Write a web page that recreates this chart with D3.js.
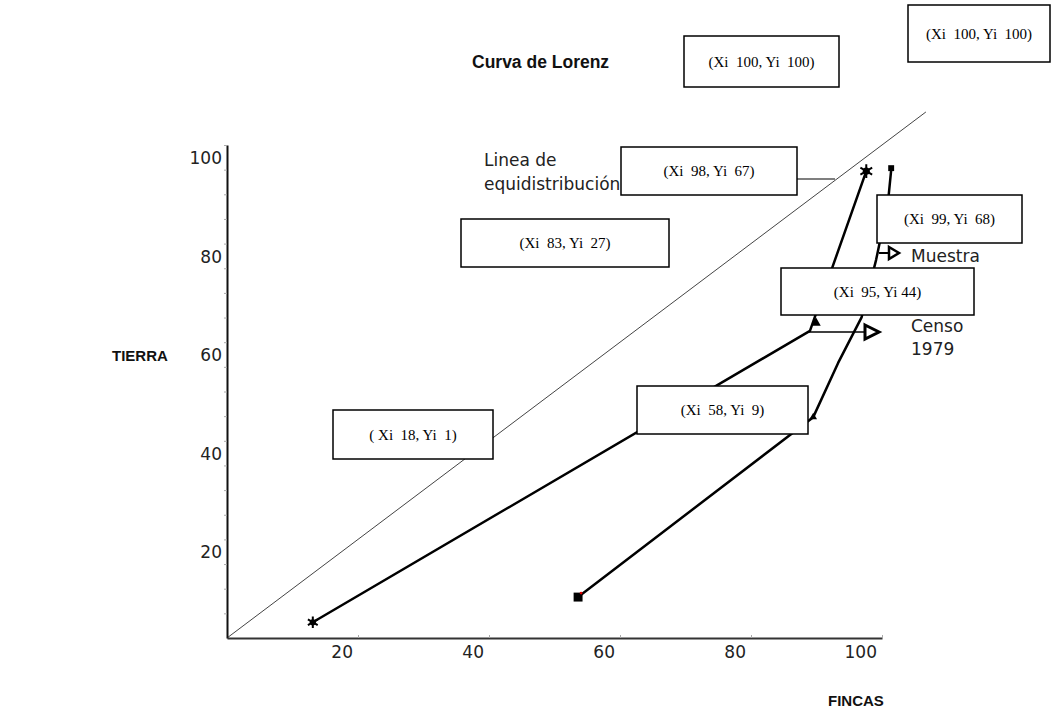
<!DOCTYPE html>
<html>
<head>
<meta charset="utf-8">
<title>Curva de Lorenz</title>
<script src="https://d3js.org/d3.v7.min.js"></script>
<style>
  body { margin: 0; background: #fff; }
  .lab { font-family: "DejaVu Sans", sans-serif; font-size: 17px; fill: #222; }
  .bold { font-family: "Liberation Sans", Arial, sans-serif; font-weight: bold; fill: #111; }
  .box text { font-family: "Liberation Serif", "Times New Roman", serif; font-size: 15px; fill: #000; white-space: pre; }
</style>
</head>
<body>
<svg width="1057" height="708"></svg>
<script>
// ticks
var xTickLabels = [20, 40, 60, 80, 100];
var yTickLabels = [20, 40, 60, 80, 100];

// Censo 1979
var censoX = [13.1, 89.0, 97.6];
var censoY = [3.2, 62.3, 94.7];

// Muestra
var muestraX = [53.6, 89.5, 93.3, 96.9, 99.1, 100.9, 101.4];
var muestraY = [8.3, 44.8, 55.8, 65.1, 76.7, 88.2, 94.9];

// equidistribution line
var equiX = [0, 106.7];
var equiY = [0, 106.7];

// callout boxes (text, left, top, width, height)
var boxText = ["(Xi  100, Yi  100)", "(Xi  100, Yi  100)", "(Xi  98, Yi  67)", "(Xi  83, Yi  27)",
               "(Xi  99, Yi  68)", "(Xi  95, Yi 44)", "(Xi  58, Yi  9)", "( Xi  18, Yi  1)"];
var boxPos = [[684, 36, 155, 51], [908, 5, 142, 57], [621, 147, 176, 48], [461, 219, 208, 48],
              [877, 195, 145, 48], [781, 268, 193, 47], [637, 386, 171, 48], [333, 410, 160, 49]];

var svg = d3.select("svg");

var x = d3.scaleLinear().domain([0, 100]).range([227, 882]);
var y = d3.scaleLinear().domain([0, 100]).range([638, 145]);

// equidistribution
svg.append("line")
  .attr("x1", x(equiX[0])).attr("y1", y(equiY[0]))
  .attr("x2", x(equiX[1])).attr("y2", y(equiY[1]))
  .attr("stroke", "#444").attr("stroke-width", 1);

// axes
var yAxis = d3.axisLeft(y).tickValues(d3.range(5, 101, 5)).tickSize(3).tickSizeOuter(0).tickFormat("");
var xAxis = d3.axisBottom(x).tickValues(xTickLabels).tickSize(-3).tickSizeOuter(0).tickFormat("");

var gy = svg.append("g").attr("transform", "translate(" + x(0) + ",0)").call(yAxis);
var gx = svg.append("g").attr("transform", "translate(0," + y(0) + ")").call(xAxis);
gy.select(".domain").attr("stroke", "#111").attr("stroke-width", 2);
gx.select(".domain").attr("stroke", "#333").attr("stroke-width", 2);
svg.selectAll(".tick line").attr("stroke", "#aaa");

svg.selectAll(".ylab")
  .data(yTickLabels)
  .enter().append("text")
  .attr("class", "lab ylab")
  .attr("x", x(0) - 5)
  .attr("y", function(d) { return y(d) + 19; })
  .attr("text-anchor", "end")
  .text(function(d) { return d; });

svg.selectAll(".xlab")
  .data(xTickLabels)
  .enter().append("text")
  .attr("class", "lab xlab")
  .attr("x", function(d) { return x(d) - 5; })
  .attr("y", y(0) + 20)
  .attr("text-anchor", "end")
  .text(function(d) { return d; });

// series lines
var censo = censoX.map(function(v, i) { return [v, censoY[i]]; });
var muestra = muestraX.map(function(v, i) { return [v, muestraY[i]]; });

var line = d3.line().x(function(d) { return x(d[0]); }).y(function(d) { return y(d[1]); });

svg.append("path")
  .datum(censo)
  .attr("fill", "none").attr("stroke", "#000").attr("stroke-width", 2.5)
  .attr("stroke-linejoin", "round")
  .attr("d", line);

svg.append("path")
  .datum(muestra)
  .attr("fill", "none").attr("stroke", "#000").attr("stroke-width", 2.5)
  .attr("stroke-linejoin", "round")
  .attr("d", line);

// markers
function sym(type, size, d, fill, stroke, sw, dx, dy) {
  svg.append("path")
    .attr("d", d3.symbol().type(type).size(size)())
    .attr("transform", "translate(" + (x(d[0]) + (dx || 0)) + "," + (y(d[1]) + (dy || 0)) + ")")
    .attr("fill", fill).attr("stroke", stroke).attr("stroke-width", sw);
}
sym(d3.symbolCircle, 30, censo[0], "#000", "none", 0);
sym(d3.symbolAsterisk, 90, censo[0], "none", "#000", 2);
sym(d3.symbolTriangle, 40, censo[1], "#000", "none", 0, 6, -8);
sym(d3.symbolCircle, 40, censo[2], "#000", "none", 0);
sym(d3.symbolAsterisk, 130, censo[2], "none", "#000", 2);

sym(d3.symbolSquare, 80, muestra[0], "#000", "none", 0);
sym(d3.symbolCircle, 6, muestra[0], "#d00", "none", 0, 3, -4);
sym(d3.symbolTriangle, 25, muestra[1], "#000", "none", 0);
sym(d3.symbolSquare, 35, muestra[muestra.length - 1], "#000", "none", 0, 0, -2);

// legend arrows
svg.append("line").attr("x1", 879).attr("y1", 253).attr("x2", 889).attr("y2", 253)
  .attr("stroke", "#000").attr("stroke-width", 2);
svg.append("path").attr("d", "M889,247L899,253L889,259Z")
  .attr("fill", "none").attr("stroke", "#000").attr("stroke-width", 2.5);
svg.append("line").attr("x1", 808).attr("y1", 332).attr("x2", 865).attr("y2", 332)
  .attr("stroke", "#000").attr("stroke-width", 1.5);
svg.append("path").attr("d", "M865,325L879,332L865,339Z")
  .attr("fill", "none").attr("stroke", "#000").attr("stroke-width", 3);

svg.append("text").attr("class", "lab").attr("x", 911).attr("y", 262).text("Muestra");
svg.append("text").attr("class", "lab").attr("x", 911).attr("y", 332).text("Censo");
svg.append("text").attr("class", "lab").attr("x", 911).attr("y", 355).text("1979");

svg.append("text").attr("class", "lab").attr("x", 484).attr("y", 166).text("Linea de");
svg.append("text").attr("class", "lab").attr("x", 484).attr("y", 190).text("equidistribución");

// connector from box to equidistribution line
svg.append("line").attr("x1", 797).attr("y1", 179).attr("x2", 835).attr("y2", 179)
  .attr("stroke", "#000").attr("stroke-width", 1.2);

// callout boxes
var boxes = svg.selectAll(".box")
  .data(boxText)
  .enter().append("g").attr("class", "box");
boxes.append("rect")
  .attr("x", function(d, i) { return boxPos[i][0]; })
  .attr("y", function(d, i) { return boxPos[i][1]; })
  .attr("width", function(d, i) { return boxPos[i][2]; })
  .attr("height", function(d, i) { return boxPos[i][3]; })
  .attr("fill", "#fff").attr("stroke", "#000").attr("stroke-width", 1.5);
boxes.append("text")
  .attr("x", function(d, i) { return boxPos[i][0] + boxPos[i][2] / 2; })
  .attr("y", function(d, i) { return boxPos[i][1] + boxPos[i][3] / 2 + 5; })
  .attr("text-anchor", "middle")
  .text(function(d) { return d; });

// titles
svg.append("text").attr("class", "bold").attr("x", 472).attr("y", 68).attr("font-size", 17.5).text("Curva de Lorenz");
svg.append("text").attr("class", "bold").attr("x", 112).attr("y", 361).attr("font-size", 15).text("TIERRA");
svg.append("text").attr("class", "bold").attr("x", 828).attr("y", 706).attr("font-size", 15).text("FINCAS");
</script>
</body>
</html>
